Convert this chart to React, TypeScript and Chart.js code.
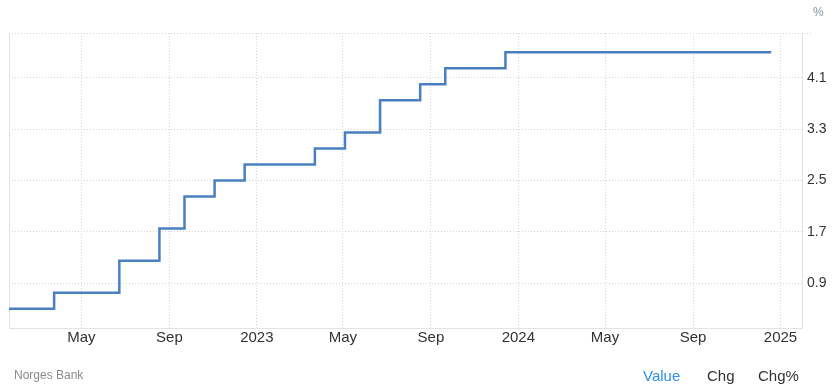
import React, { useEffect, useRef } from "react";
import { Chart, registerables } from "chart.js";

Chart.register(...registerables);

// Norges Bank policy rate decisions
const rateDates = [
  "2022-01-20", "2022-03-24", "2022-05-05", "2022-06-23", "2022-08-18", "2022-09-22",
  "2022-11-03", "2022-12-15", "2023-01-19", "2023-03-23", "2023-05-04", "2023-06-22",
  "2023-08-17", "2023-09-21", "2023-11-02", "2023-12-14", "2024-01-25", "2024-03-21",
  "2024-05-03", "2024-06-20", "2024-08-15", "2024-09-19", "2024-11-07", "2024-12-19",
];
const rateValues = [
  0.5, 0.75, 0.75, 1.25, 1.75, 2.25,
  2.5, 2.75, 2.75, 3.0, 3.25, 3.75,
  4.0, 4.25, 4.25, 4.5, 4.5, 4.5,
  4.5, 4.5, 4.5, 4.5, 4.5, 4.5,
];

const xTickDates = [
  "2022-05-01", "2022-09-01", "2023-01-01", "2023-05-01", "2023-09-01",
  "2024-01-01", "2024-05-01", "2024-09-01", "2025-01-01",
];
const xTickLabels = ["May", "Sep", "2023", "May", "Sep", "2024", "May", "Sep", "2025"];
const xRange = ["2022-01-20", "2025-01-31"];

const yTicks = [0.9, 1.7, 2.5, 3.3, 4.1];
const yRange = [0.2, 4.8];

const FONT = "'Liberation Sans', Arial, sans-serif";
const GRID = "#d6d6d6";
const AXIS = "#e3e3e3";

const framePlugin = {
  id: "frame",
  beforeDatasetsDraw(chart: any) {
    const { ctx, chartArea } = chart;
    ctx.save();
    // left border
    ctx.strokeStyle = AXIS;
    ctx.lineWidth = 1;
    ctx.beginPath();
    ctx.moveTo(Math.round(chartArea.left) + 0.5, chartArea.top);
    ctx.lineTo(Math.round(chartArea.left) + 0.5, chartArea.bottom);
    ctx.stroke();
    // top dotted line
    ctx.strokeStyle = GRID;
    ctx.setLineDash([1, 2]);
    ctx.beginPath();
    ctx.moveTo(chartArea.left, Math.round(chartArea.top) + 0.5);
    ctx.lineTo(chartArea.right + 10, Math.round(chartArea.top) + 0.5);
    ctx.stroke();
    ctx.restore();
  },
};

export default function App() {
  const ref = useRef<HTMLCanvasElement>(null);

  useEffect(() => {
    const canvas = ref.current;
    if (!canvas) return;
    const chart = new Chart(canvas, {
      type: "line",
      data: {
        datasets: [
          {
            data: rateDates.map((d, i) => ({ x: Date.parse(d), y: rateValues[i] })),
            borderColor: "#4a7fc2",
            borderWidth: 2.5,
            pointRadius: 0,
            stepped: true,
            fill: false,
          },
        ],
      },
      options: {
        animation: false,
        responsive: false,
        parsing: false as any,
        layout: { padding: { left: 9, top: 33, right: 0, bottom: 33 } },
        plugins: { legend: { display: false }, tooltip: { enabled: false } },
        scales: {
          x: {
            type: "linear",
            min: Date.parse(xRange[0]),
            max: Date.parse(xRange[1]),
            afterBuildTicks: (scale: any) => {
              scale.ticks = xTickDates.map((d) => ({ value: Date.parse(d) }));
            },
            afterFit: (scale: any) => {
              scale.height = 30;
            },
            ticks: {
              callback: (_v: any, i: number) => xTickLabels[i],
              autoSkip: false,
              maxRotation: 0,
              padding: 1,
              color: "#333333",
              font: { family: FONT, size: 15 },
            },
            grid: { color: GRID, drawTicks: false, lineWidth: 1 },
            border: { display: true, color: AXIS, dash: [1, 2] },
          },
          y: {
            type: "linear",
            position: "right",
            min: yRange[0],
            max: yRange[1],
            afterBuildTicks: (scale: any) => {
              scale.ticks = yTicks.map((v) => ({ value: v }));
            },
            afterFit: (scale: any) => {
              scale.width = 34;
            },
            ticks: {
              callback: (v: any) => Number(v).toFixed(1),
              padding: 5,
              color: "#333333",
              font: { family: FONT, size: 14 },
            },
            grid: { color: GRID, drawTicks: false, lineWidth: 1 },
            border: { display: true, color: AXIS, dash: [1, 2] },
          },
        },
      },
      plugins: [framePlugin],
    });
    return () => chart.destroy();
  }, []);

  const txt: React.CSSProperties = {
    position: "absolute",
    fontFamily: FONT,
    whiteSpace: "nowrap",
    lineHeight: 1,
  };

  return (
    <div style={{ position: "fixed", left: 0, top: 0, width: 836, height: 391, background: "#fff" }}>
      <canvas ref={ref} width={836} height={391} style={{ position: "absolute", left: 0, top: 0 }} />
      <div style={{ ...txt, left: 813, top: 6, fontSize: 12, color: "#8593a5" }}>%</div>
      <div style={{ ...txt, left: 14, top: 369, fontSize: 12, color: "#8a8a8a" }}>Norges Bank</div>
      <div style={{ ...txt, left: 643, top: 368, fontSize: 15, color: "#2f8fe6" }}>Value</div>
      <div style={{ ...txt, left: 707, top: 368, fontSize: 15, color: "#333333" }}>Chg</div>
      <div style={{ ...txt, left: 758, top: 368, fontSize: 15, color: "#333333" }}>Chg%</div>
    </div>
  );
}
